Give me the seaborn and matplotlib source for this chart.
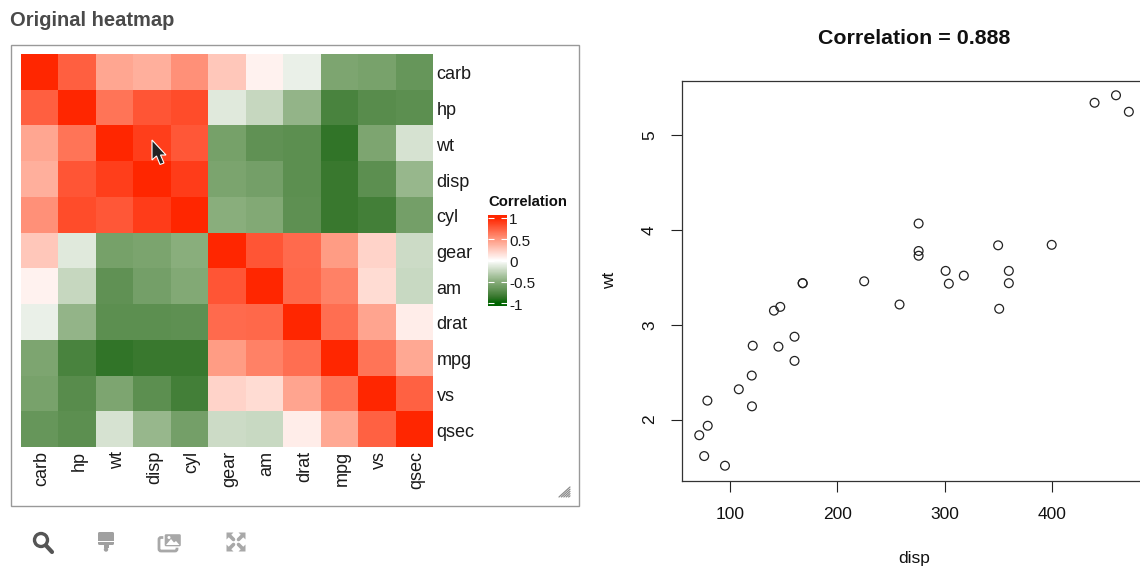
import matplotlib
matplotlib.use("Agg")
import matplotlib.pyplot as plt
import matplotlib.patches as mpatches
from matplotlib.colors import LinearSegmentedColormap
from matplotlib.transforms import ScaledTranslation
import pandas as pd
import seaborn as sns

labels = ["carb", "hp", "wt", "disp", "cyl", "gear", "am", "drat", "mpg", "vs", "qsec"]
carb = [1, .75, .43, .39, .53, .27, .06, -.09, -.55, -.57, -.66]
hp = [.75, 1, .66, .79, .83, -.13, -.24, -.45, -.78, -.72, -.71]
wt_row = [.43, .66, 1, .89, .78, -.58, -.69, -.71, -.87, -.55, -.17]
disp_row = [.39, .79, .89, 1, .90, -.56, -.59, -.71, -.85, -.71, -.43]
cyl = [.53, .83, .78, .90, 1, -.49, -.52, -.70, -.85, -.81, -.59]
gear = [.27, -.13, -.58, -.56, -.49, 1, .79, .70, .48, .21, -.21]
am = [.06, -.24, -.69, -.59, -.52, .79, 1, .71, .60, .17, -.23]
drat = [-.09, -.45, -.71, -.71, -.70, .70, .71, 1, .68, .44, .09]
mpg = [-.55, -.78, -.87, -.85, -.85, .48, .60, .68, 1, .66, .42]
vs = [-.57, -.72, -.55, -.71, -.81, .21, .17, .44, .66, 1, .74]
qsec = [-.66, -.71, -.17, -.43, -.59, -.21, -.23, .09, .42, .74, 1]

disp = [160, 160, 108, 258, 360, 225, 360, 146.7, 140.8, 167.6, 167.6, 275.8, 275.8, 275.8, 472, 460,
        440, 78.7, 75.7, 71.1, 120.1, 318, 304, 350, 400, 79, 120.3, 95.1, 351, 145, 301, 121]
wt = [2.62, 2.875, 2.32, 3.215, 3.44, 3.46, 3.57, 3.19, 3.15, 3.44, 3.44, 4.07, 3.73, 3.78, 5.25, 5.424,
      5.345, 2.2, 1.615, 1.835, 2.465, 3.52, 3.435, 3.84, 3.845, 1.935, 2.14, 1.513, 3.17, 2.77, 3.57, 2.78]

cbar_ticks = [-1, -0.5, 0, 0.5, 1]
cbar_labels = ["-1", "-0.5", "0", "0.5", "1"]
W, H = 1140, 567

sns.set_theme(style="white")
plt.rcParams["font.family"] = ["Liberation Sans", "DejaVu Sans"]

fig = plt.figure(figsize=(W / 100, H / 100), dpi=100)


def box(x0, y0, x1, y1):
    # pixel box from the top left corner -> figure fractions
    return [x0 / W, 1 - y1 / H, (x1 - x0) / W, (y1 - y0) / H]


# colours saturate at +-1, the bar runs a little past that
lim = 1.07
pos = lambda v: (v + lim) / (2 * lim)
cmap = LinearSegmentedColormap.from_list("corr", [
    (0, "#006400"), (pos(-1), "#006400"), (pos(-.87), "#34752A"), (pos(-.71), "#5C8F50"),
    (pos(-.5), "#87AC7A"), (pos(0), "#FFFFFF"), (pos(.5), "#FF9880"), (pos(1), "#FF2600"), (1, "#FF2600")])

corr = pd.DataFrame([carb, hp, wt_row, disp_row, cyl, gear, am, drat, mpg, vs, qsec], index=labels, columns=labels)

ax1 = fig.add_axes(box(21, 54, 433, 447))
cax = fig.add_axes(box(487.5, 215, 506.5, 306))
sns.heatmap(corr, ax=ax1, cmap=cmap, vmin=-lim, vmax=lim, cbar_ax=cax, linewidths=0, rasterized=True)
ax1.yaxis.tick_right()
ax1.tick_params(axis="both", length=0, labelsize=13, labelcolor="#1a1a1a")
ax1.tick_params(axis="x", labelrotation=90, pad=3)
ax1.tick_params(axis="y", labelrotation=0, pad=2.5)
ax1.set_xlabel("")
ax1.set_ylabel("")
for t in ax1.get_xticklabels():
    t.set_transform(t.get_transform() + ScaledTranslation(2.5 / 100, 0, fig.dpi_scale_trans))
for t in ax1.get_yticklabels():
    t.set_transform(t.get_transform() + ScaledTranslation(0, -1 / 100, fig.dpi_scale_trans))

cax.set_axisbelow(False)
cax.set_yticks(cbar_ticks, cbar_labels)
cax.tick_params(axis="y", left=True, right=True, direction="in", color="white", length=4, width=0.8,
                labelsize=11, labelcolor="#1a1a1a", pad=2)
for t in cax.get_yticklabels():
    t.set_transform(t.get_transform() + ScaledTranslation(0, -1 / 100, fig.dpi_scale_trans))
for s in cax.spines.values():
    s.set_visible(False)

ax2 = fig.add_axes(box(682, 80.5, 1146, 480.5))
sns.scatterplot(data=pd.DataFrame({"disp": disp, "wt": wt}), x="disp", y="wt", ax=ax2, s=40,
                facecolor="none", edgecolor="#222222", linewidth=0.9, clip_on=False)
ax2.set_xlim(55, 488)
ax2.set_ylim(1.357, 5.58)
ax2.set_xticks([100, 200, 300, 400])
ax2.set_yticks([2, 3, 4, 5])
ax2.tick_params(axis="both", length=8, width=0.8, color="#222222", labelsize=12.5, labelcolor="#111111",
                bottom=True, left=True)
ax2.tick_params(axis="x", pad=11)
ax2.tick_params(axis="y", pad=10)
for t in ax2.get_yticklabels():
    t.set_rotation(90)
    t.set_va("center")
for s in ax2.spines.values():
    s.set_color("#333333")
    s.set_linewidth(0.9)
ax2.set_xlabel("disp", fontsize=12.5, color="#111111", labelpad=21)
ax2.set_ylabel("wt", fontsize=12.5, color="#111111", labelpad=18)
ax2.set_title("Correlation = 0.888", fontsize=15.4, fontweight="bold", color="#111111", pad=26)

# page furniture in pixel coordinates
ov = fig.add_axes([0, 0, 1, 1], zorder=10)
ov.set_xlim(0, W)
ov.set_ylim(H, 0)
ov.axis("off")
ov.patch.set_alpha(0)
ov.add_patch(mpatches.Rectangle((10.5, 45), 568, 461, fill=False, ec="#999999", lw=1))
ov.text(10, 21, "Original heatmap", fontsize=14.5, fontweight="bold", color="#4a4a4a", va="center", ha="left")
ov.text(488, 202, "Correlation", fontsize=10.7, fontweight="bold", color="#111111", va="center", ha="left")

# mouse pointer
ov.add_patch(mpatches.Polygon([(152, 140), (152, 160), (156.5, 156), (160, 164.5), (164, 163), (160.5, 155), (166, 155)],
                              fc="#222222", ec="white", lw=0.8))

# resize grip
for i in range(5):
    ov.plot([559 + i * 2.4, 570], [497, 487 + i * 2.2], color="#8c8c8c", lw=0.9)

# toolbar icons
ov.add_patch(mpatches.Circle((41, 540), 6.5, fill=False, ec="#555555", lw=2.4))
ov.plot([46, 52], [545.5, 552], color="#555555", lw=3, solid_capstyle="round")

ov.add_patch(mpatches.FancyBboxPatch((98, 532), 16, 13, boxstyle="round,pad=0,rounding_size=1.5", fc="#a0a0a0", ec="none"))
ov.add_patch(mpatches.Rectangle((98, 541), 16, 1, fc="white", ec="none"))
ov.add_patch(mpatches.Rectangle((103.5, 545), 5, 2.5, fc="#a0a0a0", ec="none"))
ov.add_patch(mpatches.Circle((106, 549.5), 2.2, fc="#a0a0a0", ec="none"))

ov.add_patch(mpatches.FancyBboxPatch((159, 537.5), 18, 13.5, boxstyle="round,pad=0,rounding_size=2", fill=False, ec="#a8a8a8", lw=2))
ov.add_patch(mpatches.FancyBboxPatch((164, 533.5), 17.5, 13.5, boxstyle="round,pad=0,rounding_size=2", fc="#a8a8a8", ec="white", lw=1))
ov.add_patch(mpatches.Polygon([(166, 545), (171, 539), (174, 542.5), (176, 541), (179.5, 545)], fc="white", ec="none"))
ov.add_patch(mpatches.Circle((169, 537.5), 1.5, fc="white", ec="none"))

for cx, sx in [(236, 1), (236, -1)]:
    for sy in (1, -1):
        ov.plot([cx + sx * 2.5, cx + sx * 7], [542 + sy * 2.5, 542 + sy * 7], color="#a8a8a8", lw=2.6)
        ov.add_patch(mpatches.Polygon([(cx + sx * 9.5, 542 + sy * 9.5), (cx + sx * 2.5, 542 + sy * 9.5),
                                       (cx + sx * 9.5, 542 + sy * 2.5)], fc="#a8a8a8", ec="none"))

plt.savefig("out.png", dpi=100)
